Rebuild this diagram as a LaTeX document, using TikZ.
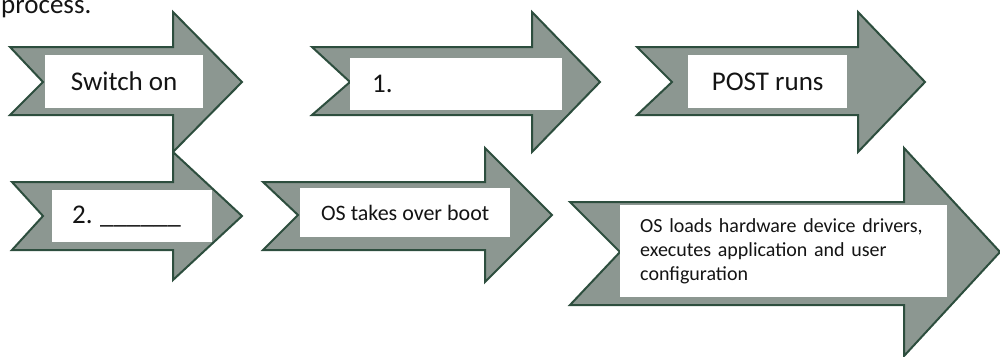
\documentclass[tikz,border=0pt]{standalone}
\usepackage{fontspec}
\setmainfont{Carlito}
\definecolor{arrowfill}{RGB}{140,151,145}
\definecolor{arrowline}{RGB}{45,78,62}
\definecolor{inktext}{RGB}{20,20,20}
\tikzset{
  bigarrow/.style={fill=arrowfill, draw=arrowline, line width=2pt, line join=miter},
  labelbox/.style={fill=white, draw=none, inner sep=0pt, anchor=north west, text=inktext},
  bigfont/.style={font=\fontsize{27}{32}\selectfont},
  midfont/.style={font=\fontsize{22}{26}\selectfont},
  smallfont/.style={font=\fontsize{20}{24}\selectfont},
}
\begin{document}
\begin{tikzpicture}[x=1pt,y=-1pt]
\useasboundingbox (0,0) rectangle (1000,356);

% partially visible heading
\node[anchor=base west, inner sep=0pt, bigfont, text=inktext] (heading) at (1,13) {process.};

% row 1
\draw[bigarrow] (10,47) -- (173,47) -- (173,12) -- (242,82) -- (173,152) -- (173,115) -- (10,115) -- (43,82) -- cycle;
\draw[bigarrow] (312,47) -- (532,47) -- (532,12) -- (600,82) -- (532,152) -- (532,115) -- (312,115) -- (350,82) -- cycle;
\draw[bigarrow] (637,47) -- (858,47) -- (858,12) -- (925,82) -- (858,152) -- (858,115) -- (637,115) -- (672,82) -- cycle;

% row 2
\draw[bigarrow] (12,182) -- (173,182) -- (173,152) -- (242,216) -- (173,280) -- (173,250) -- (12,250) -- (43,216) -- cycle;
\draw[bigarrow] (263,182) -- (485,182) -- (485,148) -- (552,215) -- (485,282) -- (485,250) -- (263,250) -- (298,215) -- cycle;
\draw[bigarrow] (570,202) -- (904,202) -- (904,148) -- (1000,252) -- (904,356) -- (904,305) -- (570,305) -- (620,252) -- cycle;

% label boxes
\node[labelbox, bigfont, minimum width=158pt, minimum height=53pt] (switchon) at (45,55) {Switch on};
\node[labelbox, bigfont, inner xsep=22pt, text width=168pt, align=left, minimum height=52pt] (stepone) at (350,58) {1.};
\node[labelbox, bigfont, minimum width=159pt, minimum height=53pt] (post) at (688,55) {POST runs};
\node[labelbox, bigfont, inner xsep=20pt, text width=120pt, align=left, minimum height=52pt] (steptwo) at (52,190) {2. \kern-6pt\_\_\_\_\_\_};
\node[labelbox, midfont, minimum width=210pt, minimum height=49pt] (ostakes) at (300,188) {OS takes over boot};
\node[labelbox, smallfont, inner xsep=20pt, text width=287pt, align=left, minimum height=92pt] (osloads) at (620,205) {OS loads hardware device drivers,\\executes application and user\\configuration};
\end{tikzpicture}
\end{document}
